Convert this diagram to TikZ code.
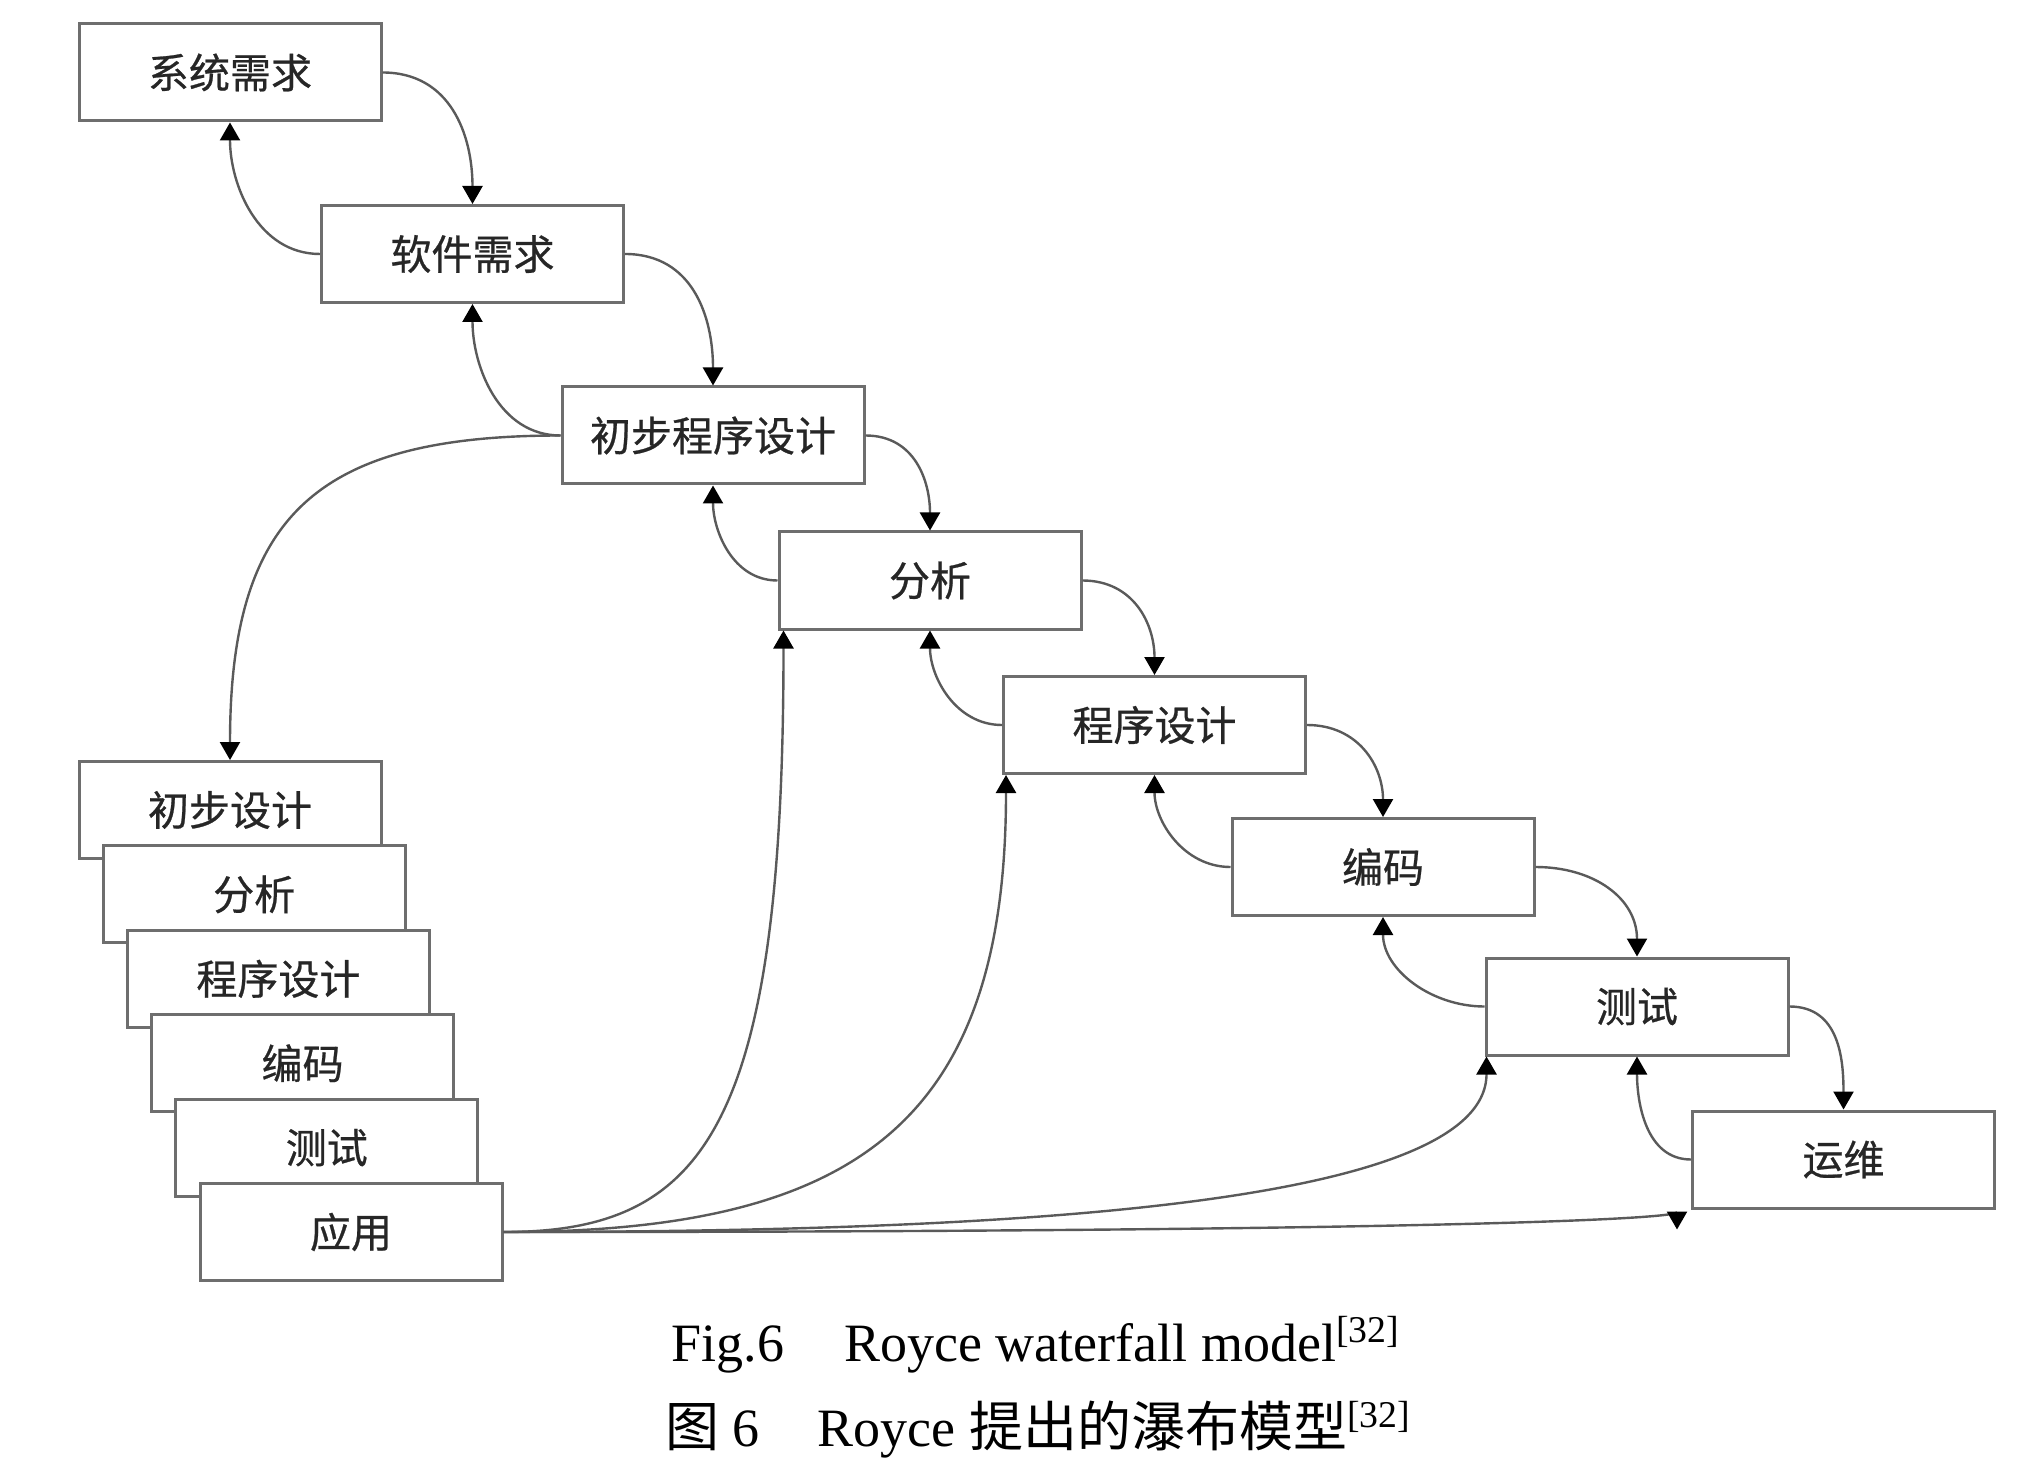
\documentclass[tikz,border=0pt]{standalone}
\usepackage{fontspec}
\setmainfont{Liberation Serif}
\newfontfamily\cjk{Noto Sans CJK SC}
\newfontfamily\cjkbox{Noto Sans CJK SC}[FakeBold=0.6]
\usetikzlibrary{arrows.meta}

\definecolor{boxgray}{HTML}{6E6E6E}
\definecolor{linegray}{HTML}{5A5A5A}

\tikzset{
  box/.style={draw=boxgray,line width=1.5pt,fill=white,minimum width=151pt,minimum height=48.5pt,inner sep=0pt,text=black!85,font=\cjkbox\fontsize{20.5}{24}\selectfont},
  flow/.style={draw=linegray,line width=1.2pt,-{Triangle[width=10pt,length=9pt,color=black]}},
  caption/.style={anchor=base,inner sep=0pt,font=\fontsize{27}{32}\selectfont}
}

\begin{document}
\begin{tikzpicture}[x=0.5pt,y=0.5pt]
  \useasboundingbox (0,0) rectangle (2032,-1475);
  % waterfall steps
  \node[box] (sysreq) at (230,-72.5) {系统需求};
  \node[box] (swreq) at (472.5,-254) {软件需求};
  \node[box] (prelim) at (713,-435.5) {初步程序设计};
  \node[box] (analysis) at (930,-580.5) {分析};
  \node[box] (progdes) at (1154.5,-725) {程序设计};
  \node[box] (coding) at (1383,-867) {编码};
  \node[box] (testing) at (1637,-1006.5) {测试};
  \node[box] (ops) at (1843.5,-1159.5) {运维};
  % stacked copy on the left
  \node[box] (s1) at (230,-810) {初步设计};
  \node[box] (s2) at (254.2,-894.4) {分析};
  \node[box] (s3) at (278.4,-978.8) {程序设计};
  \node[box] (s4) at (302.6,-1063.2) {编码};
  \node[box] (s5) at (326.8,-1147.6) {测试};
  \node[box] (s6) at (351,-1232) {应用};
  % forward steps
  \draw[flow] (sysreq.east) to[out=0,in=90,looseness=1.1] (swreq.north);
  \draw[flow] (swreq.east) to[out=0,in=90,looseness=1.1] (prelim.north);
  \draw[flow] (prelim.east) to[out=0,in=90,looseness=1.1] (analysis.north);
  \draw[flow] (analysis.east) to[out=0,in=90,looseness=1.1] (progdes.north);
  \draw[flow] (progdes.east) to[out=0,in=90,looseness=1.1] (coding.north);
  \draw[flow] (coding.east) to[out=0,in=90,looseness=1.1] (testing.north);
  \draw[flow] (testing.east) to[out=0,in=90,looseness=1.1] (ops.north);
  % feedback
  \draw[flow] (swreq.west) to[out=180,in=-90] (sysreq.south);
  \draw[flow] (prelim.west) to[out=180,in=-90] (swreq.south);
  \draw[flow] (analysis.west) to[out=180,in=-90] (prelim.south);
  \draw[flow] (progdes.west) to[out=180,in=-90] (analysis.south);
  \draw[flow] (coding.west) to[out=180,in=-90] (progdes.south);
  \draw[flow] (testing.west) to[out=180,in=-90] (coding.south);
  \draw[flow] (ops.west) to[out=180,in=-90] (testing.south);
  \draw[flow] (prelim.west) to[out=180,in=90,looseness=1.35] (s1.north);
  % from the last stacked box
  \draw[flow] (s6.east) .. controls +(200,0) and +(0,-500) .. ([xshift=3pt]analysis.south west);
  \draw[flow] (s6.east) .. controls +(350,0) and +(0,-350) .. ([xshift=2pt]progdes.south west);
  \draw[flow] (s6.east) .. controls +(500,0) and +(0,-150) .. ([xshift=1pt]testing.south west);
  \draw[flow] (s6.east) .. controls +(900,0) and +(0,10) .. ([xshift=-7pt,yshift=-10pt]ops.south west);
  % caption
  \node[caption] (capen) at (1036,-1361) {Fig.6\hspace{30pt}Royce waterfall model\textsuperscript{[32]}};
  \node[caption] (capzh) at (1038,-1446) {{\cjk 图} 6\hspace{29pt}Royce {\cjk 提出的瀑布模型}\textsuperscript{[32]}};
\end{tikzpicture}
\end{document}
